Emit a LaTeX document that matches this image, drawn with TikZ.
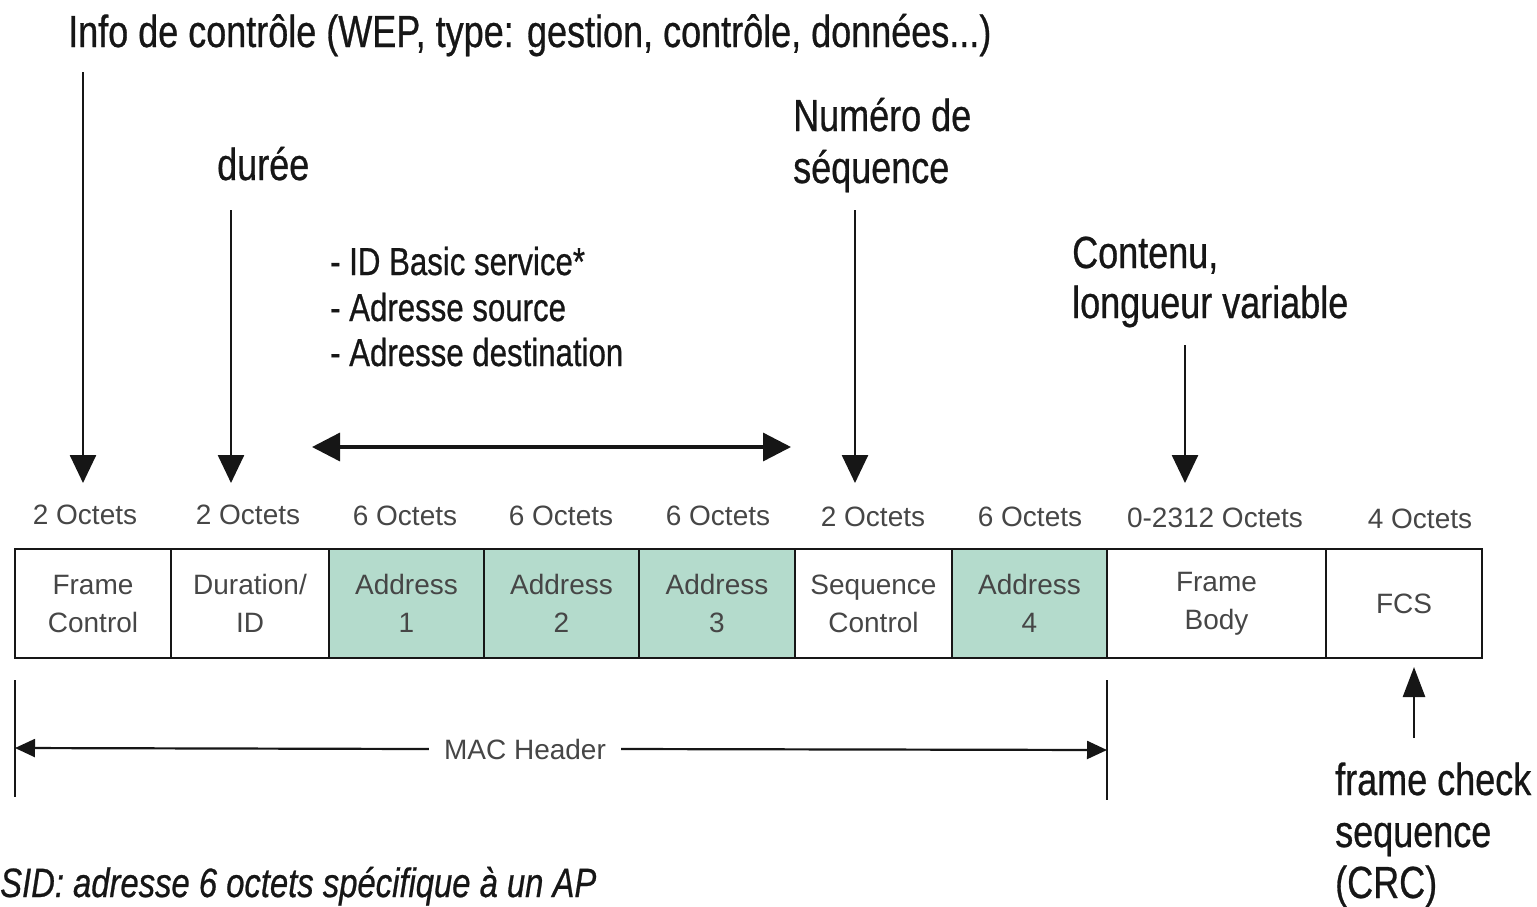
\documentclass[tikz,border=0pt]{standalone}
\usepackage{fontspec}
\setmainfont{Liberation Sans}
\newfontfamily\condfont[FakeStretch=0.8,FakeBold=0.6]{Liberation Sans}
\usetikzlibrary{arrows.meta}
\definecolor{addrfill}{RGB}{180,219,204}
\definecolor{ink}{RGB}{22,22,22}
\definecolor{greyink}{RGB}{70,70,70}
\begin{document}
\begin{tikzpicture}[x=1pt,y=-1pt,
  big/.style={font=\condfont\fontsize{45}{50}\selectfont, text=ink, inner sep=0pt, anchor=base west},
  mid/.style={font=\condfont\fontsize{39}{44}\selectfont, text=ink, inner sep=0pt, anchor=base west},
  oct/.style={font=\fontsize{28}{30}\selectfont, text=greyink, inner sep=0pt, anchor=base},
  fld/.style={draw=ink, line width=2.6pt, minimum height=109pt, inner sep=0pt, outer sep=0pt,
    anchor=north west, align=center, font=\fontsize{28}{38}\selectfont, text=greyink},
  addr/.style={fld, fill=addrfill},
  arr/.style={draw=ink, line width=2.6pt, -{Triangle[length=28pt,width=26pt]}},
  darr/.style={draw=ink, line width=3.4pt, {Triangle[length=28pt,width=28pt]}-{Triangle[length=28pt,width=28pt]}},
  marr/.style={draw=ink, line width=2.2pt, -{Triangle[length=20pt,width=18pt]}},
  bar/.style={draw=ink, line width=2.2pt},
]
\useasboundingbox (0,0) rectangle (1537,906);

% top labels
\node[big] (info) at (68,47) {Info de contrôle (WEP, type: gestion, contrôle, données...)};
\node[big] (dur) at (217,180) {durée};
\node[big] (num1) at (793,131) {Numéro de};
\node[big] (num2) at (793,183) {séquence};
\node[mid] (lst1) at (330,275) {- ID Basic service*};
\node[mid] (lst2) at (330,321) {- Adresse source};
\node[mid] (lst3) at (330,366) {- Adresse destination};
\node[big] (cont1) at (1072,268) {Contenu,};
\node[big] (cont2) at (1072,318) {longueur variable};

% octet labels
\node[oct] (o1) at (85,524) {2 Octets};
\node[oct] (o2) at (248,524) {2 Octets};
\node[oct] (o3) at (405,525) {6 Octets};
\node[oct] (o4) at (561,525) {6 Octets};
\node[oct] (o5) at (718,525) {6 Octets};
\node[oct] (o6) at (873,526) {2 Octets};
\node[oct] (o7) at (1030,526) {6 Octets};
\node[oct] (o8) at (1215,527) {0-2312 Octets};
\node[oct] (o9) at (1420,528) {4 Octets};

% fields
\node[fld, minimum width=156pt] (fc) at (15,549) {Frame\\Control};
\node[fld, minimum width=158pt] (dr) at (171,549) {Duration/\\ID};
\node[addr, minimum width=155pt] (ad1) at (329,549) {Address\\1};
\node[addr, minimum width=155pt] (ad2) at (484,549) {Address\\2};
\node[addr, minimum width=156pt] (ad3) at (639,549) {Address\\3};
\node[fld, minimum width=157pt] (sc) at (795,549) {Sequence\\Control};
\node[addr, minimum width=155pt] (ad4) at (952,549) {Address\\4};
\node[fld, minimum width=219pt] (fb) at (1107,549) {Frame\\Body};
\node[fld, minimum width=156pt] (fcs) at (1326,549) {FCS};

% downward arrows
\coordinate (a1s) at (83,72);    \coordinate (a1e) at (83,483);
\coordinate (a2s) at (231,210);  \coordinate (a2e) at (231,483);
\coordinate (a3s) at (855,210);  \coordinate (a3e) at (855,483);
\coordinate (a4s) at (1185,345); \coordinate (a4e) at (1185,483);
\draw[arr] (a1s) -- (a1e);
\draw[arr] (a2s) -- (a2e);
\draw[arr] (a3s) -- (a3e);
\draw[arr] (a4s) -- (a4e);

% double arrow over addresses
\coordinate (dl) at (312,447); \coordinate (dr2) at (791,447);
\draw[darr] (dl) -- (dr2);

% MAC header
\coordinate (mL1) at (15,680);   \coordinate (mL2) at (15,797);
\coordinate (mR1) at (1107,680); \coordinate (mR2) at (1107,800);
\draw[bar] (mL1) -- (mL2);
\draw[bar] (mR1) -- (mR2);
\coordinate (mLa) at (15,748); \coordinate (mRa) at (1107,750);
\node[oct, anchor=center, fill=white, inner xsep=15pt, inner ysep=2pt] (mac) at (525,749) {MAC Header};
\draw[marr] (mac.west) -- (mLa);
\draw[marr] (mac.east) -- (mRa);

% FCS arrow and label
\coordinate (fa) at (1414,738); \coordinate (fb2) at (1414,667);
\draw[arr, -{Triangle[length=30pt,width=22pt]}] (fa) -- (fb2);
\node[big] (fcs1) at (1335,795) {frame check};
\node[big] (fcs2) at (1335,847) {sequence};
\node[big] (fcs3) at (1335,898) {(CRC)};

% footnote
\node[big, font=\condfont\itshape\fontsize{41}{46}\selectfont] (sid) at (0,897) {SID: adresse 6 octets spécifique à un AP};
\end{tikzpicture}
\end{document}
